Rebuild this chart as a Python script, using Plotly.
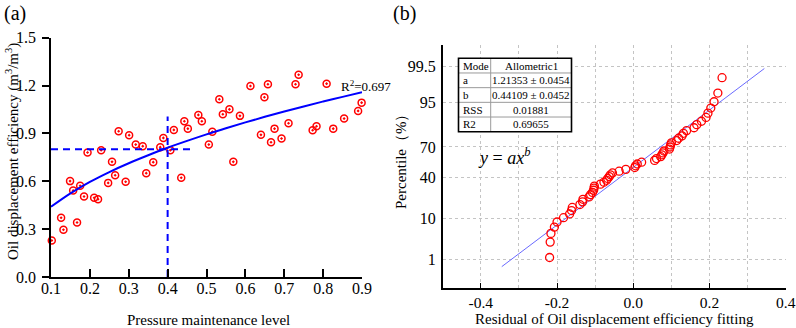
import plotly.graph_objects as go
from statistics import NormalDist

W, H = 796, 328
FONT = "Liberation Serif"

# ---------------- Panel (a) data ----------------
pressure = [0.102, 0.126, 0.132, 0.149, 0.157, 0.167, 0.175, 0.185, 0.194, 0.211,
            0.221, 0.229, 0.247, 0.257, 0.265, 0.274, 0.292, 0.301, 0.318, 0.336,
            0.345, 0.363, 0.381, 0.389, 0.407, 0.416, 0.435, 0.443, 0.452, 0.479,
            0.488, 0.506, 0.515, 0.533, 0.542, 0.559, 0.569, 0.586, 0.613, 0.640,
            0.649, 0.658, 0.666, 0.675, 0.693, 0.711, 0.729, 0.737, 0.773, 0.783,
            0.809, 0.826, 0.854, 0.890, 0.899]
efficiency = [0.229, 0.371, 0.296, 0.601, 0.542, 0.342, 0.572, 0.505, 0.780, 0.497,
              0.488, 0.795, 0.590, 0.722, 0.638, 0.914, 0.597, 0.889, 0.830, 0.820,
              0.651, 0.720, 0.814, 0.872, 0.795, 0.922, 0.622, 0.976, 0.930, 1.016,
              0.976, 0.830, 0.910, 1.114, 1.020, 1.051, 0.722, 1.010, 1.197, 0.891,
              1.127, 1.208, 0.845, 0.930, 0.868, 0.964, 1.208, 1.268, 0.920, 0.945,
              1.212, 0.930, 0.993, 1.041, 1.093]
fit_x = [0.10, 0.15, 0.20, 0.25, 0.30, 0.35, 0.40, 0.45, 0.50, 0.55, 0.60, 0.65, 0.70, 0.75, 0.80, 0.85, 0.90]
fit_y = [0.440, 0.524, 0.596, 0.658, 0.713, 0.763, 0.810, 0.853, 0.894, 0.932, 0.969,
         1.004, 1.037, 1.069, 1.100, 1.129, 1.158]
hguide_x = [0.1, 0.466]
hguide_y = [0.8, 0.8]
vguide_x = [0.4, 0.4]
vguide_y = [0.0, 1.006]
xticks_a = [0.1, 0.2, 0.3, 0.4, 0.5, 0.6, 0.7, 0.8, 0.9]
yticks_a = [0.0, 0.3, 0.6, 0.9, 1.2, 1.5]

# ---------------- Panel (b) data ----------------
residual = [-0.2195, -0.218, -0.216, -0.207, -0.200, -0.183, -0.167, -0.162, -0.160, -0.140,
            -0.133, -0.132, -0.116, -0.112, -0.107, -0.104, -0.103, -0.102, -0.086, -0.077,
            -0.070, -0.067, -0.063, -0.060, -0.0545, -0.037, -0.0195, 0.004, 0.006, 0.0105,
            0.022, 0.056, 0.061, 0.072, 0.075, 0.078, 0.0805, 0.095, 0.0965, 0.098,
            0.100, 0.114, 0.119, 0.128, 0.1316, 0.140, 0.1595, 0.1666, 0.179, 0.191,
            0.196, 0.2035, 0.212, 0.222, 0.233]
percentile = [1.13, 2.94, 4.75, 6.56, 8.37, 10.18, 11.99, 13.80, 15.61, 17.42,
              19.23, 21.04, 22.85, 24.66, 26.47, 28.28, 30.09, 31.90, 33.71, 35.52,
              37.33, 39.14, 40.95, 42.76, 44.57, 46.38, 48.19, 50.00, 51.81, 53.62,
              55.43, 57.24, 59.05, 60.86, 62.67, 64.48, 66.29, 68.10, 69.91, 71.72,
              73.53, 75.34, 77.15, 78.96, 80.77, 82.58, 84.39, 86.20, 88.01, 89.82,
              91.63, 93.44, 95.25, 97.06, 98.87]
ref_residual = [-0.345, 0.344]
ref_percentile = [0.6, 99.4]
prob_ticks = [1, 10, 40, 70, 95, 99.5]
xticks_b = [-0.4, -0.2, 0.0, 0.2, 0.4]
xticktext_b = ["-0.4", "-0.2", "0.0", "0.2", "0.4"]

table_rows = [["Mode", "Allometric1"],
              ["a", "1.21353 ± 0.0454"],
              ["b", "0.44109 ± 0.0452"],
              ["RSS", "0.01881"],
              ["R2", "0.69655"]]

ND = NormalDist()


def prob(p):  # normal-probability axis scale
    return ND.inv_cdf(p / 100.0)


def fx(p):
    return p / W


def fy(p):
    return 1 - p / H


fig = go.Figure()

# Panel (a)
fig.add_trace(go.Scatter(x=pressure, y=efficiency, mode="markers", xaxis="x", yaxis="y",
                         marker=dict(symbol="circle-open-dot", size=7, color="#ff0000",
                                     line=dict(width=1.5, color="#ff0000")),
                         cliponaxis=False, showlegend=False))
fig.add_trace(go.Scatter(x=fit_x, y=fit_y, mode="lines", xaxis="x", yaxis="y",
                         line=dict(color="#0000ff", width=2, shape="spline"), showlegend=False))
fig.add_trace(go.Scatter(x=hguide_x, y=hguide_y, mode="lines", xaxis="x", yaxis="y",
                         line=dict(color="#0000ff", width=2, dash="7px,5px"), showlegend=False,
                         cliponaxis=False))
fig.add_trace(go.Scatter(x=vguide_x, y=vguide_y, mode="lines", xaxis="x", yaxis="y",
                         line=dict(color="#0000ff", width=2, dash="7px,5px"), showlegend=False,
                         cliponaxis=False))

# Panel (b)
fig.add_trace(go.Scatter(x=ref_residual, y=[prob(p) for p in ref_percentile], mode="lines",
                         xaxis="x2", yaxis="y2",
                         line=dict(color="#6a6aff", width=1), showlegend=False))
fig.add_trace(go.Scatter(x=residual, y=[prob(p) for p in percentile], mode="markers",
                         xaxis="x2", yaxis="y2",
                         marker=dict(symbol="circle-open", size=8, color="#ff0000",
                                     line=dict(width=1.3, color="#ff0000")),
                         cliponaxis=False, showlegend=False))

grid = dict(showgrid=True, gridcolor="#c4c4c4", gridwidth=1, griddash="3px,3px")
tickfont_a = dict(family=FONT, size=16, color="black")
tickfont_b = dict(family=FONT, size=15.5, color="black")

fig.update_layout(
    width=W, height=H, margin=dict(l=0, r=0, t=0, b=0),
    template="none", paper_bgcolor="white", plot_bgcolor="white",
    font=dict(family=FONT, color="black"),
    xaxis=dict(domain=[fx(51), fx(362)], range=[0.1, 0.9], tickvals=xticks_a,
               tickformat=".1f", ticks="inside", ticklen=8, tickwidth=1.5, tickcolor="black",
               showline=True, linecolor="black", linewidth=1.8, showgrid=False, zeroline=False,
               tickfont=tickfont_a, ticklabelstandoff=-4, anchor="y", automargin=False),
    yaxis=dict(domain=[fy(277), fy(37.7)], range=[0, 1.5], tickvals=yticks_a,
               tickformat=".1f", ticks="outside", ticklen=7, tickwidth=1.5, tickcolor="black",
               showline=True, linecolor="black", linewidth=1.8, showgrid=False, zeroline=False,
               tickfont=tickfont_a, ticklabelstandoff=3, anchor="x", automargin=False),
    xaxis2=dict(domain=[fx(442.7), fx(785.7)], range=[-0.5, 0.4], tickvals=xticks_b,
                ticktext=xticktext_b,
                ticks="inside", ticklen=5, tickwidth=1.2, tickcolor="black",
                showline=True, linecolor="black", linewidth=1.5, zeroline=False,
                minor=dict(dtick=0.1, tick0=0, showgrid=True, gridcolor="#c4c4c4",
                           griddash="3px,3px", gridwidth=1, ticks=""),
                tickfont=tickfont_b, anchor="y2", automargin=False, **grid),
    yaxis2=dict(domain=[fy(288), fy(45)], range=[-3.054, 3.109],
                tickvals=[prob(p) for p in prob_ticks], ticktext=[str(p) for p in prob_ticks],
                ticks="", showline=True, linecolor="black", linewidth=1.5, zeroline=False,
                tickfont=tickfont_a, ticklabelstandoff=2, anchor="x2", automargin=False, **grid),
)

# Titles and labels
ann = [
    dict(text="(a)", x=fx(2), y=fy(13), xanchor="left", yanchor="middle", font=dict(size=20)),
    dict(text="(b)", x=fx(391), y=fy(13), xanchor="left", yanchor="middle", font=dict(size=20)),
    dict(text="Oil displacement efficiency (m<sup>3</sup>/m<sup>3</sup>)", x=fx(12), y=fy(152),
         textangle=-90, xanchor="center", yanchor="middle", font=dict(size=15)),
    dict(text="Pressure maintenance level", x=fx(208), y=fy(320), xanchor="center",
         yanchor="middle", font=dict(size=15)),
    dict(text="Percentile（%）", x=fx(401), y=fy(158), textangle=-90, xanchor="center",
         yanchor="middle", font=dict(size=15)),
    dict(text="Residual of Oil displacement efficiency fitting", x=fx(614), y=fy(318.5),
         xanchor="center", yanchor="middle", font=dict(size=15)),
    dict(text="R<sup>2</sup>=0.697", x=0.842, y=1.2, xref="x", yref="y", xanchor="left",
         yanchor="middle", font=dict(size=13)),
    dict(text="<i>y</i> = <i>ax</i><sup><i>b</i></sup>", x=fx(476), y=fy(156), xanchor="left",
         yanchor="middle", font=dict(size=18)),
]

# Table of fit parameters
tx0, tx1, tcol = 458.5, 571.5, 490.7
ty0, rh = 58.3, 14.68
ty1 = ty0 + rh * len(table_rows)
shapes = [dict(type="rect", xref="paper", yref="paper", x0=fx(tx0), x1=fx(tx1), y0=fy(ty1), y1=fy(ty0),
               fillcolor="white", line=dict(width=0), layer="above")]
for i in range(1, len(table_rows)):
    yy = ty0 + rh * i
    shapes.append(dict(type="line", xref="paper", yref="paper", x0=fx(tx0), x1=fx(tx1),
                       y0=fy(yy), y1=fy(yy), line=dict(color="#9a9a9a", width=1), layer="above"))
shapes.append(dict(type="line", xref="paper", yref="paper", x0=fx(tcol), x1=fx(tcol),
                   y0=fy(ty0), y1=fy(ty1), line=dict(color="#9a9a9a", width=1), layer="above"))
shapes.append(dict(type="rect", xref="paper", yref="paper", x0=fx(tx0), x1=fx(tx1), y0=fy(ty1), y1=fy(ty0),
                   line=dict(color="black", width=1.6), layer="above"))
for i, (c1, c2) in enumerate(table_rows):
    yc = ty0 + rh * (i + 0.5)
    ann.append(dict(text=c1, x=fx(tx0 + 2), y=fy(yc), xanchor="left", yanchor="middle",
                    font=dict(size=11)))
    ann.append(dict(text=c2, x=fx((tcol + tx1) / 2), y=fy(yc), xanchor="center", yanchor="middle",
                    font=dict(size=11)))

for a in ann:
    a.setdefault("xref", "paper")
    a.setdefault("yref", "paper")
    a["showarrow"] = False
    a["font"] = dict(family=FONT, color="black", **a["font"])

fig.update_layout(annotations=ann, shapes=shapes)
fig.write_html("out.html", config={"displayModeBar": False},
               post_script="document.body.style.margin='0';document.body.style.overflow='hidden';")
